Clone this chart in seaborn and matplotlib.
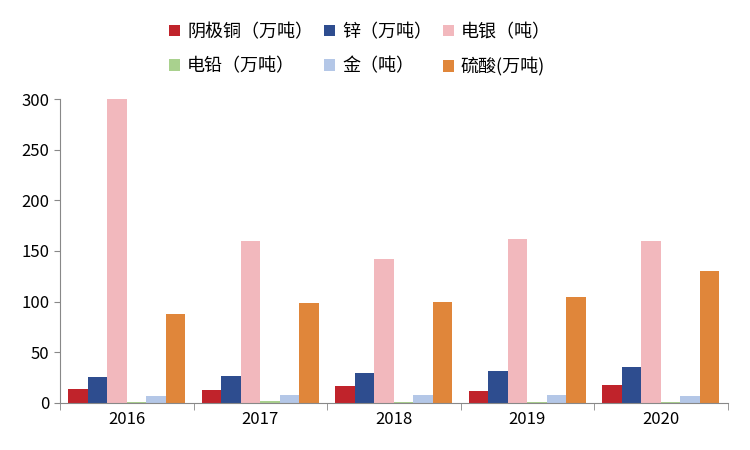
import matplotlib
matplotlib.use("Agg")
import matplotlib.pyplot as plt
import seaborn as sns
import pandas as pd
import numpy as np

plt.rcParams["font.family"] = ["Noto Sans CJK SC"]

years = ["2016", "2017", "2018", "2019", "2020"]
series = ["阴极铜（万吨）", "锌（万吨）", "电银（吨）", "电铅（万吨）", "金（吨）", "硫酸(万吨)"]
copper = [14, 13, 17, 12, 18]
zinc = [25, 26, 29, 31, 35]
silver = [300, 160, 142, 162, 160]
lead = [1, 2, 1, 1, 1]
gold = [7, 8, 8, 8, 7]
acid = [88, 99, 100, 104, 130]
colors = ["#C0232B", "#2E4D8F", "#F2B8BD", "#A9D18E", "#B4C7E7", "#E0863A"]

rows = []
for s, vals in zip(series, [copper, zinc, silver, lead, gold, acid]):
    for y, v in zip(years, vals):
        rows.append({"year": y, "series": s, "value": v})
df = pd.DataFrame(rows)

fig = plt.figure(figsize=(7.5, 4.5), dpi=100)
ax = fig.add_axes([0.08, 0.105, 0.89, 0.675])
sns.barplot(data=df, x="year", y="value", hue="series", palette=colors,
            width=0.88, saturation=1, ax=ax)
ax.set_ylim(0, 300)
ax.set_yticks(range(0, 301, 50))
ax.set_xlabel("")
ax.set_ylabel("")
ax.set_xlim(-0.5, 4.5)
ax.set_xticks(np.arange(-0.5, 5, 1), minor=True)
ax.tick_params(axis="x", which="major", length=0, labelsize=12, pad=6)
ax.tick_params(axis="x", which="minor", length=5, color="#888888", direction="out")
ax.tick_params(axis="y", labelsize=12, length=4, color="#888888")
for s in ["top", "right"]:
    ax.spines[s].set_visible(False)
for s in ["left", "bottom"]:
    ax.spines[s].set_color("#888888")
h, l = ax.get_legend_handles_labels()
ax.legend_.remove()
order = [0, 3, 1, 4, 2, 5]
fig.legend([h[i] for i in order], [l[i] for i in order], loc="upper center",
           bbox_to_anchor=(0.48, 0.985), ncol=3,
           frameon=False, fontsize=13, handlelength=0.6, handleheight=0.6,
           columnspacing=0.6, handletextpad=0.4, labelspacing=0.9)
fig.savefig("out.png")
